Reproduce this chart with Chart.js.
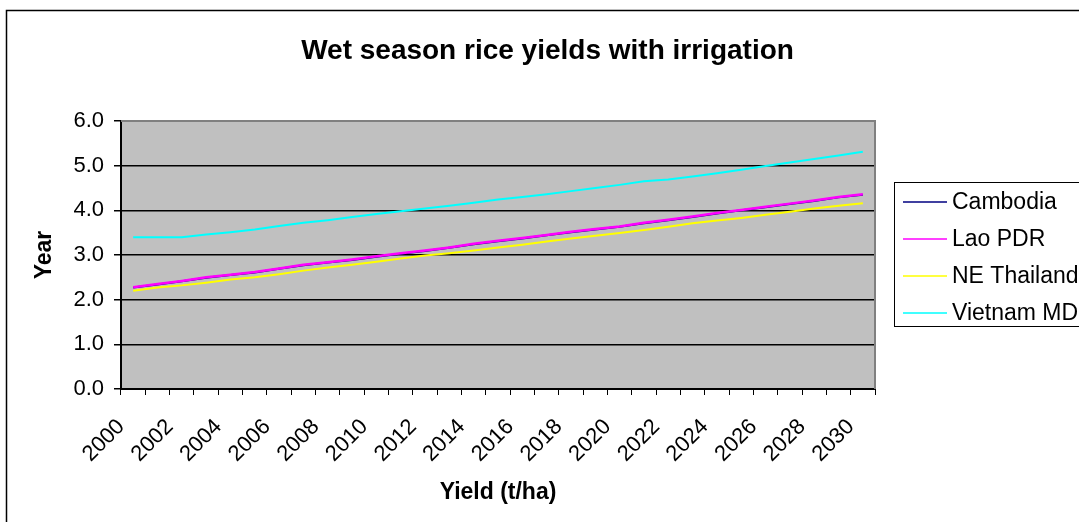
<!DOCTYPE html>
<html>
<head>
<meta charset="utf-8">
<title>Wet season rice yields with irrigation</title>
<script src="https://cdn.jsdelivr.net/npm/chart.js@4/dist/chart.umd.min.js"></script>
<style>
  html, body { margin: 0; padding: 0; background: #ffffff; }
  #wrap { width: 1079px; height: 522px; }
</style>
</head>
<body>
<div id="wrap"><canvas id="chart" width="1079" height="522"></canvas></div>
<script>
// Years on the category axis
const years = [
  '2000','2001','2002','2003','2004','2005','2006','2007','2008','2009',
  '2010','2011','2012','2013','2014','2015','2016','2017','2018','2019',
  '2020','2021','2022','2023','2024','2025','2026','2027','2028','2029','2030'
];

// Wet season yields with irrigation (t/ha)
const cambodia = [
  2.27, 2.34, 2.41, 2.49, 2.55, 2.61, 2.69, 2.77, 2.83, 2.89,
  2.96, 3.03, 3.09, 3.16, 3.24, 3.31, 3.37, 3.44, 3.51, 3.57,
  3.63, 3.71, 3.78, 3.85, 3.93, 4.00, 4.07, 4.14, 4.21, 4.29, 4.35
];
const laoPDR = [
  2.28, 2.35, 2.42, 2.50, 2.56, 2.62, 2.70, 2.78, 2.84, 2.90,
  2.97, 3.04, 3.10, 3.17, 3.25, 3.32, 3.38, 3.45, 3.52, 3.58,
  3.64, 3.72, 3.79, 3.86, 3.94, 4.01, 4.08, 4.15, 4.22, 4.30, 4.36
];
const neThailand = [
  2.20, 2.27, 2.32, 2.38, 2.45, 2.50, 2.57, 2.65, 2.72, 2.78,
  2.85, 2.92, 2.99, 3.04, 3.10, 3.17, 3.23, 3.30, 3.37, 3.43,
  3.49, 3.56, 3.63, 3.71, 3.77, 3.83, 3.90, 3.97, 4.04, 4.10, 4.16
];
const vietnamMD = [
  3.40, 3.40, 3.40, 3.46, 3.51, 3.57, 3.65, 3.72, 3.78, 3.85,
  3.92, 3.98, 4.04, 4.10, 4.17, 4.24, 4.30, 4.36, 4.43, 4.50,
  4.57, 4.65, 4.69, 4.76, 4.83, 4.91, 4.99, 5.07, 5.15, 5.23, 5.31
];

// Y axis tick values
const yTicks = [0, 1, 2, 3, 4, 5, 6];

const FONT = "'Liberation Sans', Arial, Helvetica, sans-serif";

// Grey plot area, its top/right frame and the outer chart frame
const frame = {
  id: 'frame',
  beforeDatasetsDraw(chart) {
    const { ctx, chartArea: a } = chart;
    ctx.save();
    ctx.strokeStyle = '#808080';
    ctx.lineWidth = 2;
    ctx.beginPath();
    ctx.moveTo(a.left, a.top);
    ctx.lineTo(a.right, a.top);
    ctx.lineTo(a.right, a.bottom);
    ctx.stroke();
    ctx.restore();
  },
  beforeDraw(chart) {
    const { ctx, chartArea: a } = chart;
    ctx.save();
    ctx.fillStyle = '#c0c0c0';
    ctx.fillRect(a.left, a.top, a.right - a.left, a.bottom - a.top);
    ctx.strokeStyle = '#000000';
    ctx.lineWidth = 1.5;
    ctx.strokeRect(6.5, 10.5, 1200, 700);
    ctx.restore();
  }
};

// Boxed legend to the right of the plot
const boxLegend = {
  id: 'boxLegend',
  afterDraw(chart) {
    const { ctx } = chart;
    const x0 = 894, y0 = 182, w = 300, h = 144;
    ctx.save();
    ctx.fillStyle = '#ffffff';
    ctx.fillRect(x0, y0, w, h);
    ctx.strokeStyle = '#000000';
    ctx.lineWidth = 1;
    ctx.strokeRect(x0 + 0.5, y0 + 0.5, w, h);
    ctx.font = '23px ' + FONT;
    ctx.textBaseline = 'middle';
    ctx.textAlign = 'left';
    chart.data.datasets.forEach((ds, i) => {
      const y = 202 + i * 37;
      ctx.strokeStyle = ds.borderColor;
      ctx.lineWidth = 1.5;
      ctx.beginPath();
      ctx.moveTo(903, y);
      ctx.lineTo(947, y);
      ctx.stroke();
      ctx.fillStyle = '#000000';
      ctx.fillText(ds.label, 952, y + 1);
    });
    ctx.restore();
  }
};

const lineStyle = { borderWidth: 2, pointRadius: 0, tension: 0, fill: false };

new Chart(document.getElementById('chart'), {
  type: 'line',
  data: {
    labels: years,
    datasets: [
      { label: 'Cambodia', data: cambodia, borderColor: '#000080', order: 1, ...lineStyle },
      { label: 'Lao PDR', data: laoPDR, borderColor: '#ff00ff', order: 0, ...lineStyle, borderWidth: 2.5 },
      { label: 'NE Thailand', data: neThailand, borderColor: '#ffff00', order: 0, ...lineStyle },
      { label: 'Vietnam MD', data: vietnamMD, borderColor: '#00ffff', order: 0, ...lineStyle }
    ]
  },
  options: {
    responsive: false,
    animation: false,
    devicePixelRatio: 1,
    layout: { padding: { left: 16, right: 0, top: 0, bottom: 0 } },
    plugins: {
      legend: { display: false },
      tooltip: { enabled: false },
      title: {
        display: true,
        text: 'Wet season rice yields with irrigation',
        color: '#000000',
        font: { family: FONT, size: 28, weight: 'bold', lineHeight: 1.2 },
        padding: { top: 34, bottom: 53.4 }
      }
    },
    scales: {
      x: {
        type: 'category',
        offset: true,
        grid: {
          offset: true,
          drawOnChartArea: false,
          drawTicks: true,
          tickLength: 6,
          tickColor: '#000000',
          tickWidth: 1
        },
        border: { color: '#000000', width: 2 },
        ticks: {
          autoSkip: false,
          maxRotation: 45,
          minRotation: 45,
          padding: 19,
          labelOffset: -12,
          color: '#000000',
          font: { family: FONT, size: 22 },
          callback: function (v, i) { return i % 2 === 0 ? this.getLabelForValue(v) : ''; }
        },
        title: {
          display: true,
          text: 'Yield (t/ha)',
          color: '#000000',
          font: { family: FONT, size: 23, weight: 'bold', lineHeight: 1.2 },
          padding: { top: 0, bottom: 16 }
        },
        afterFit(scale) { scale.height = 133; }
      },
      y: {
        min: yTicks[0],
        max: yTicks[yTicks.length - 1],
        afterBuildTicks(scale) { scale.ticks = yTicks.map(v => ({ value: v })); },
        grid: {
          color: (c) => (c.tick && c.tick.value === 6 ? '#808080' : '#000000'),
          lineWidth: 1.5,
          drawTicks: true,
          tickLength: 7,
          tickColor: '#000000'
        },
        border: { color: '#000000', width: 2 },
        ticks: {
          padding: 10,
          color: '#000000',
          font: { family: FONT, size: 22 },
          callback: (v) => Number(v).toFixed(1)
        },
        title: {
          display: true,
          text: 'Year',
          color: '#000000',
          font: { family: FONT, size: 23, weight: 'bold', lineHeight: 1.2 },
          padding: { top: 15, bottom: 0 }
        },
        afterFit(scale) { scale.width = 105; }
      },
      // Empty right-hand band that holds the legend
      side: {
        position: 'right',
        display: true,
        grid: { display: false },
        border: { display: false },
        ticks: { display: false },
        afterFit(scale) { scale.width = 204; }
      }
    }
  },
  plugins: [frame, boxLegend]
});
</script>
</body>
</html>
